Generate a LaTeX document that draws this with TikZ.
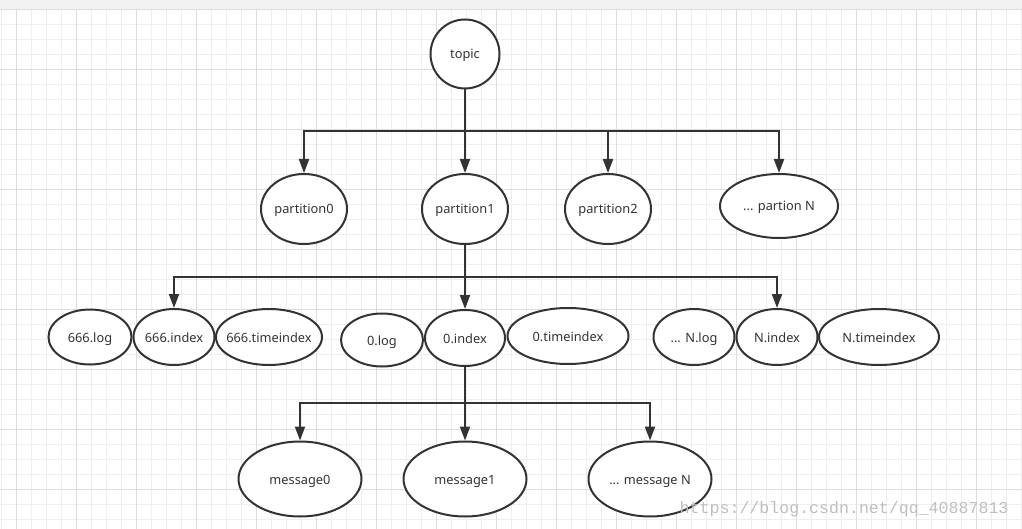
\documentclass[tikz,border=0pt]{standalone}
\usepackage{fontspec}
\setmainfont{Noto Sans}
\newfontfamily\markfont{Liberation Mono}
\usepackage{tikz}
\usetikzlibrary{shapes.geometric,arrows.meta}
\definecolor{inkGray}{HTML}{333333}
\definecolor{minorLine}{HTML}{EEEEEE}
\definecolor{majorLine}{HTML}{DDDDDD}
\definecolor{topBand}{HTML}{F2F2F2}
\tikzset{
    bubble/.style={
        draw=inkGray,
        ellipse,
        line width=2pt,
        fill=white,
        inner sep=0pt,
        text=inkGray,
        font=\fontsize{12.8}{15}\selectfont
    }
}
\tikzset{
    link/.style={draw=inkGray, line width=2pt, -{Triangle[length=14pt,width=10pt]}}
}
\newcommand{\drawBubble}[5]{\node[bubble, minimum width=#3, minimum height=#4] (#1) at #2 {\makebox[0pt]{\smash{\raisebox{-5pt}{#5}}}}}

\begin{document}
\begin{tikzpicture}[x=1pt,y=-1pt]

    \useasboundingbox (0,0) rectangle (1022,529);

    % paper grid
    \fill[white] (0,0) rectangle (1022,529);
    \fill[topBand] (0,0) rectangle (1022,9);
    \foreach \gx in {1,16,...,1021} \draw[minorLine, line width=0.8pt] (\gx,9) -- (\gx,529);
    \foreach \gy in {24,39,...,529} \draw[minorLine, line width=0.8pt] (0,\gy) -- (1022,\gy);
    \foreach \gx in {16,76,...,1021} \draw[majorLine, line width=0.8pt] (\gx,9) -- (\gx,529);
    \foreach \gy in {9,69,...,529} \draw[majorLine, line width=0.8pt] (0,\gy) -- (1022,\gy);

    \coordinate (busTop) at (0,131);
    \coordinate (busMid) at (0,277);
    \coordinate (busLow) at (0,403);

    \drawBubble{topic}{(465,54)}{69pt}{69pt}{topic};

    \drawBubble{part0}{(304,209)}{86pt}{70pt}{partition0};
    \drawBubble{part1}{(465,209)}{86pt}{70pt}{partition1};
    \drawBubble{part2}{(608,209)}{86pt}{70pt}{partition2};
    \drawBubble{partN}{(779,206)}{118pt}{64pt}{... partion N};

    \drawBubble{log666}{(90,337)}{83pt}{55pt}{666.log};
    \drawBubble{idx666}{(174,337)}{81pt}{56pt}{666.index};
    \drawBubble{tix666}{(269,337)}{106pt}{56pt}{666.timeindex};

    \drawBubble{logZero}{(382,340)}{82pt}{53pt}{0.log};
    \drawBubble{idxZero}{(465,338)}{80pt}{56pt}{0.index};
    \drawBubble{tixZero}{(568,336)}{121pt}{56pt}{0.timeindex};

    \drawBubble{logN}{(694,337)}{81pt}{56pt}{... N.log};
    \drawBubble{idxN}{(777,337)}{81pt}{56pt}{N.index};
    \drawBubble{tixN}{(879,337)}{120pt}{56pt}{N.timeindex};

    \drawBubble{msg0}{(300,479)}{123pt}{75pt}{message0};
    \drawBubble{msg1}{(465,479)}{123pt}{75pt}{message1};
    \drawBubble{msgN}{(650,479)}{123pt}{75pt}{... message N};

    \foreach \kid in {part0,part1,part2,partN}
        \draw[link] (topic.south) -- (topic.south |- busTop) -| (\kid.north);

    \foreach \kid in {idx666,idxZero,idxN}
        \draw[link] (part1.south) -- (part1.south |- busMid) -| (\kid.north);

    \foreach \kid in {msg0,msg1,msgN}
        \draw[link] (idxZero.south) -- (idxZero.south |- busLow) -| (\kid.north);

    \node[anchor=east, text=gray!50, font=\markfont\fontsize{16.6}{17}\selectfont] (mark) at (1012,509) {https://blog.csdn.net/qq\_40887813};

\end{tikzpicture}
\end{document}
